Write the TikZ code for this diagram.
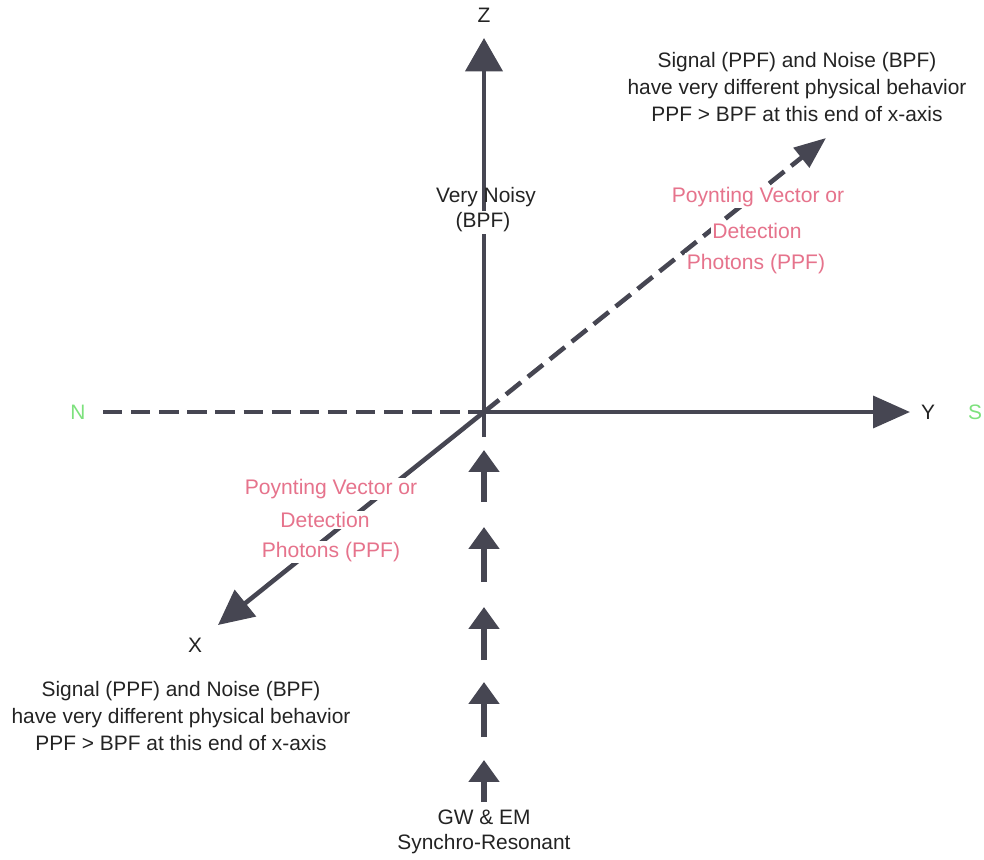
\documentclass[tikz,border=0pt]{standalone}
\usepackage{fontspec}
\setmainfont{Liberation Sans}
\usetikzlibrary{arrows.meta}

\definecolor{axisgray}{RGB}{70,70,82}
\definecolor{notepink}{RGB}{230,115,140}
\definecolor{polegreen}{RGB}{125,225,125}
\definecolor{inkblack}{RGB}{35,35,35}

\tikzset{
  axisline/.style={draw=axisgray, line width=2.6pt},
  dashline/.style={axisline, dash pattern=on 11pt off 5pt},
  note/.style={text=inkblack, align=center, font=\fontsize{11.9}{15.6}\selectfont},
  pinknote/.style={text=notepink, fill=white, inner sep=0.8pt, font=\fontsize{12}{13}\selectfont},
  pole/.style={text=polegreen, font=\fontsize{11.9}{13}\selectfont},
}

\begin{document}
\begin{tikzpicture}[x=0.02cm, y=-0.02cm]
  \useasboundingbox (0,0) rectangle (984,859);

  % Origine et extremites des axes
  \coordinate (O) at (484,412);
  \coordinate (ztip) at (484,38);
  \coordinate (zlow) at (484,437);
  \coordinate (ytip) at (910,412);
  \coordinate (nend) at (103,412);
  \coordinate (xtip) at (218,625);
  \coordinate (xfar) at (826,138);

  % Axes
  \draw[axisline, -{Triangle[length=19pt, width=21pt]}] (zlow) -- (ztip);
  \draw[axisline, -{Triangle[length=21pt, width=18pt]}] (O) -- (ytip);
  \draw[dashline] (nend) -- (O);
  \draw[axisline, -{Triangle[length=20pt, width=19pt]}] (O) -- (xtip);
  \draw[dashline, -{Triangle[length=18pt, width=14pt]}] (O) -- (xfar);

  % Fleches GW & EM
  \foreach \tp/\bt in {450/502, 527/582, 607/660, 682/737, 760/802}
    \draw[axisline, line width=3pt, -{Triangle[length=12.5pt, width=17pt]}] (484,\bt) -- (484,\tp);

  % Etiquettes des axes
  \node[note] (zlbl) at (484,15) {Z};
  \node[note] (ylbl) at (928,412) {Y};
  \node[note] (xlbl) at (195,645) {X};
  \node[pole] (north) at (78,412) {N};
  \node[pole] (south) at (975,412) {S};

  % Textes
  \node[note] (noisy) at (486,197) {Very Noisy};
  \node[note, fill=white, inner sep=1pt] (bpf) at (483,222) {(BPF)};

  \node[note] (farnote) at (797,87) {Signal (PPF) and Noise (BPF)\\have very different physical behavior\\PPF > BPF at this end of x-axis};
  \node[note] (nearnote) at (181,716) {Signal (PPF) and Noise (BPF)\\have very different physical behavior\\PPF > BPF at this end of x-axis};

  \node[pinknote] (farpa) at (758,197) {Poynting Vector or};
  \node[pinknote] (farpb) at (757,231) {Detection};
  \node[pinknote] (farpc) at (756,264) {Photons (PPF)};

  \node[pinknote] (nearpa) at (331,489) {Poynting Vector or};
  \node[pinknote] (nearpb) at (325,520) {Detection};
  \node[pinknote] (nearpc) at (331,552) {Photons (PPF)};

  \node[note, font=\fontsize{11.9}{14.2}\selectfont] (gw) at (484,832) {GW \& EM\\Synchro-Resonant};
\end{tikzpicture}
\end{document}
